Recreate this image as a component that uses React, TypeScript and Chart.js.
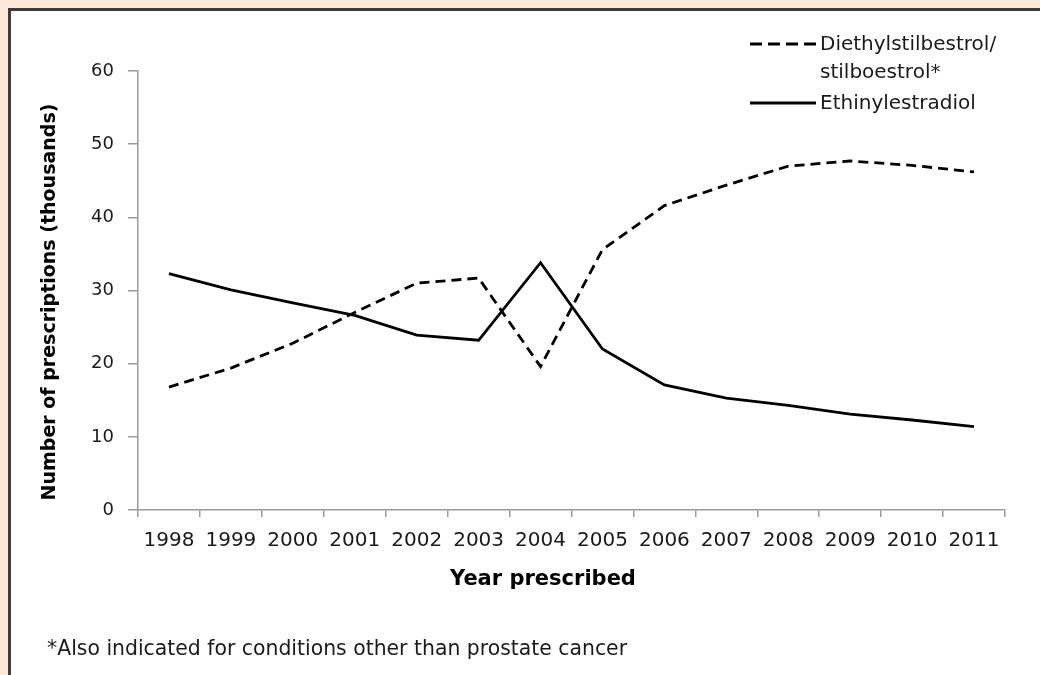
import React, { useEffect, useRef } from "react";
import { Chart, registerables } from "chart.js";

Chart.register(...registerables);

const years = ["1998", "1999", "2000", "2001", "2002", "2003", "2004", "2005", "2006", "2007", "2008", "2009", "2010", "2011"];
const diethylstilbestrol = [16.8, 19.4, 22.8, 27.0, 31.0, 31.7, 19.6, 35.6, 41.6, 44.4, 47.0, 47.7, 47.1, 46.2];
const ethinylestradiol = [32.3, 30.1, 28.3, 26.6, 23.9, 23.2, 33.8, 22.0, 17.1, 15.3, 14.3, 13.1, 12.3, 11.4];
const yTicks = [0, 10, 20, 30, 40, 50, 60];

const seriesNames = [["Diethylstilbestrol/", "stilboestrol*"], ["Ethinylestradiol"]];
const yTitle = "Number of prescriptions (thousands)";
const xTitle = "Year prescribed";
const footnote = "*Also indicated for conditions other than prostate cancer";

const FONT = "'DejaVu Sans', Verdana, sans-serif";

const legendPlugin = {
  id: "customLegend",
  afterDraw(chart: any) {
    const ctx = chart.ctx;
    const x0 = 750;
    const x1 = 816;
    const tx = 820;
    const rows = [
      { y: 44, dashed: true, lines: seriesNames[0] },
      { y: 103, dashed: false, lines: seriesNames[1] },
    ];
    ctx.save();
    ctx.font = `20px ${FONT}`;
    ctx.fillStyle = "#1a1a1a";
    ctx.textBaseline = "middle";
    ctx.textAlign = "left";
    rows.forEach((r) => {
      ctx.beginPath();
      ctx.setLineDash(r.dashed ? [12, 6] : []);
      ctx.lineWidth = 3;
      ctx.strokeStyle = "#000";
      ctx.moveTo(x0, r.y);
      ctx.lineTo(x1, r.y);
      ctx.stroke();
      ctx.setLineDash([]);
      r.lines.forEach((t: string, j: number) => {
        ctx.fillText(t, tx, r.y + 1 + j * 28);
      });
    });

    // axis titles
    ctx.fillStyle = "#000";
    ctx.textAlign = "center";
    ctx.textBaseline = "middle";
    ctx.font = `bold 21px ${FONT}`;
    ctx.fillText(xTitle, 543, 580);
    ctx.save();
    ctx.translate(50, 302);
    ctx.rotate(-Math.PI / 2);
    ctx.font = `bold 19px ${FONT}`;
    ctx.fillText(yTitle, 0, 0);
    ctx.restore();
    ctx.restore();
  },
};

export default function App() {
  const canvasRef = useRef<HTMLCanvasElement | null>(null);

  useEffect(() => {
    const canvas = canvasRef.current;
    if (!canvas) return;
    const chart = new Chart(canvas, {
      type: "line",
      data: {
        labels: years,
        datasets: [
          {
            label: "Diethylstilbestrol/stilboestrol*",
            data: diethylstilbestrol,
            borderColor: "#000",
            borderWidth: 2.8,
            borderDash: [10, 6],
            pointRadius: 0,
            tension: 0,
            fill: false,
          },
          {
            label: "Ethinylestradiol",
            data: ethinylestradiol,
            borderColor: "#000",
            borderWidth: 2.8,
            pointRadius: 0,
            tension: 0,
            fill: false,
          },
        ],
      },
      options: {
        responsive: false,
        animation: false,
        devicePixelRatio: 1,
        layout: { padding: { top: 71, right: 35, bottom: 80, left: 0 } },
        plugins: {
          legend: { display: false },
          tooltip: { enabled: false },
        },
        scales: {
          x: {
            offset: true,
            grid: {
              offset: true,
              drawOnChartArea: false,
              drawTicks: true,
              tickLength: 7,
              color: "#9a9a9a",
              lineWidth: 1.5,
            },
            border: { color: "#9a9a9a", width: 1.5 },
            ticks: {
              color: "#1a1a1a",
              font: { family: FONT, size: 20 },
              padding: 12,
              maxRotation: 0,
              autoSkip: false,
            },
            title: { display: false },
            afterFit: (scale: any) => {
              scale.height = 85;
            },
          },
          y: {
            min: 0,
            max: 60,
            afterBuildTicks: (scale: any) => {
              scale.ticks = yTicks.map((v) => ({ value: v }));
            },
            grid: {
              drawOnChartArea: false,
              drawTicks: true,
              tickLength: 10,
              color: "#9a9a9a",
              lineWidth: 1.5,
            },
            border: { color: "#9a9a9a", width: 1.5 },
            ticks: {
              color: "#1a1a1a",
              font: { family: FONT, size: 18 },
              padding: 14,
            },
            title: { display: false },
            afterFit: (scale: any) => {
              scale.width = 138;
            },
          },
        },
      },
      plugins: [legendPlugin],
    });
    return () => {
      chart.destroy();
    };
  }, []);

  return (
    <div
      style={{
        position: "fixed",
        left: 0,
        top: 0,
        width: 1040,
        height: 675,
        background: "#fde9da",
        overflow: "hidden",
      }}
    >
      <div
        style={{
          position: "absolute",
          left: 8,
          top: 8,
          width: 1060,
          height: 700,
          background: "#fff",
          border: "3px solid #3c3c3c",
          boxSizing: "border-box",
        }}
      />
      <canvas
        ref={canvasRef}
        width={1040}
        height={675}
        style={{ position: "absolute", left: 0, top: 0, width: 1040, height: 675 }}
      />
      <div
        style={{
          position: "absolute",
          left: 47,
          top: 635,
          fontFamily: FONT,
          fontSize: 20.4,
          color: "#1a1a1a",
          whiteSpace: "nowrap",
          lineHeight: "26px",
        }}
      >
        {footnote}
      </div>
    </div>
  );
}
